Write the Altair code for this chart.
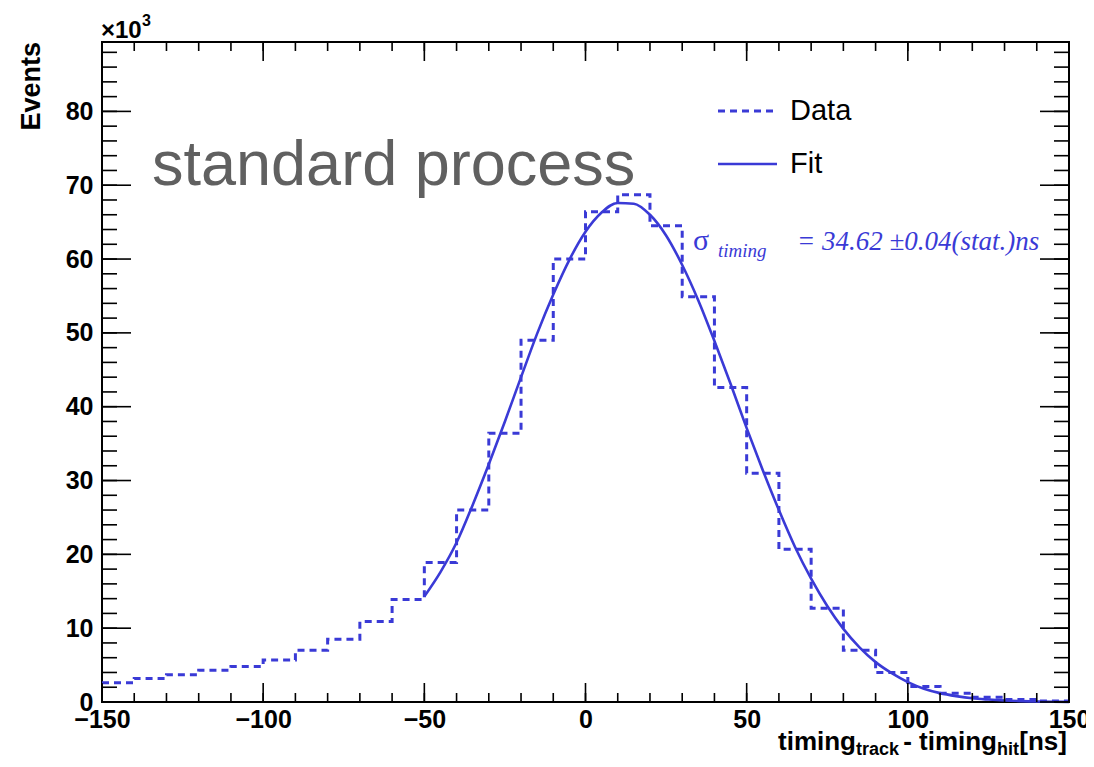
import altair as alt
import pandas as pd

# ---------------- data (values in units of 10^3 events) ----------------
bin_low = list(range(-150, 150, 10))
counts = [2.6, 3.2, 3.7, 4.3, 4.8, 5.7, 7.0, 8.5, 10.9, 13.9,
          18.9, 26.0, 36.4, 49.0, 60.0, 66.4, 68.7, 64.5, 54.9, 42.6,
          31.0, 20.7, 12.7, 7.0, 4.0, 2.1, 1.2, 0.65, 0.35, 0.15]

fit_x = list(range(-50, 155, 5))
fit_y = [14.3, 17.6, 21.6, 26.7, 32.2, 38.0, 44.0, 49.9, 55.2, 59.9,
         63.7, 66.3, 67.6, 67.5, 66.0, 63.2, 59.2, 54.4, 48.9, 43.1,
         37.1, 31.4, 26.0, 21.0, 16.7, 13.0, 9.9, 7.4, 5.4, 3.9,
         2.7, 1.8, 1.2, 0.8, 0.5, 0.33, 0.2, 0.12, 0.07, 0.04, 0.02]

x_tick_labels = [-150, -100, -50, 0, 50, 100, 150]
x_minor = list(range(-150, 151, 10))
y_tick_labels = [0, 10, 20, 30, 40, 50, 60, 70, 80]
y_minor = list(range(0, 90, 2))

X_MIN, X_MAX = -150, 150
Y_MAX = 89.4

BLUE = "#3a3ad6"
W, H = 967, 660
SANS = "Liberation Sans"
SERIF = "Liberation Serif"

# ---------------- tables ----------------
hist_df = pd.DataFrame({"x": bin_low + [X_MAX], "y": counts + [counts[-1]]})
fit_df = pd.DataFrame({"x": fit_x, "y": fit_y})
xmaj_df = pd.DataFrame({"x": x_tick_labels})
xmin_df = pd.DataFrame({"x": x_minor})
ymaj_df = pd.DataFrame({"y": y_tick_labels})
ymin_df = pd.DataFrame({"y": y_minor})

xscale = alt.Scale(domain=[X_MIN, X_MAX], nice=False, zero=False)
yscale = alt.Scale(domain=[0, Y_MAX], nice=False, zero=False)

xaxis = alt.Axis(values=x_tick_labels, ticks=False, domain=False, grid=False,
                 labelFont=SANS, labelFontWeight="bold", labelFontSize=25,
                 labelColor="black", labelPadding=5, labelFlush=False,
                 labelOverlap=False, title=None, format="d")
yaxis = alt.Axis(values=y_tick_labels, ticks=False, domain=False, grid=False,
                 labelFont=SANS, labelFontWeight="bold", labelFontSize=25,
                 labelColor="black", labelPadding=9, labelFlush=False,
                 labelOverlap=False, title=None, format="d")


def X(f="x"):
    return alt.X(f"{f}:Q", scale=xscale, axis=xaxis)


def Y(f="y"):
    return alt.Y(f"{f}:Q", scale=yscale, axis=yaxis)


hist = alt.Chart(hist_df).mark_line(
    interpolate="step-after", color=BLUE, strokeWidth=3, strokeDash=[7, 5]
).encode(x=X(), y=Y())

fit = alt.Chart(fit_df).mark_line(
    interpolate="monotone", color=BLUE, strokeWidth=2.6
).encode(x=X(), y=Y())

tick_layers = []
for df, ln in [(xmaj_df, 19), (xmin_df, 9)]:
    tick_layers.append(alt.Chart(df).mark_rule(color="black", strokeWidth=1.6).encode(
        x=X(), y=alt.value(H), y2=alt.value(H - ln)))
    tick_layers.append(alt.Chart(df).mark_rule(color="black", strokeWidth=1.6).encode(
        x=X(), y=alt.value(0), y2=alt.value(ln)))
for df, ln in [(ymaj_df, 29), (ymin_df, 15)]:
    tick_layers.append(alt.Chart(df).mark_rule(color="black", strokeWidth=1.6).encode(
        y=Y(), x=alt.value(0), x2=alt.value(ln)))
    tick_layers.append(alt.Chart(df).mark_rule(color="black", strokeWidth=1.6).encode(
        y=Y(), x=alt.value(W), x2=alt.value(W - ln)))

one = pd.DataFrame({"k": [0]})


def txt(text, x, y, size, font=SANS, weight="normal", style="normal",
        color="black", align="left", baseline="alphabetic", angle=0):
    kw = dict(text=text, font=font, fontSize=size, fontWeight=weight,
              fontStyle=style, color=color, align=align, baseline=baseline)
    if angle:
        kw["angle"] = angle
    return alt.Chart(one).mark_text(**kw).encode(x=alt.value(x), y=alt.value(y))


texts = [
    # multiplier and y title
    txt("×10", -1, -4, 24, weight="bold"),
    txt("3", 40, -16, 16, weight="bold"),
    txt("Events", -62, 0, 27, weight="bold", align="right", angle=270),
    # x title with subscripts (right aligned at the frame edge)
    txt("[ns]", W - 2, 708, 26, weight="bold", align="right"),
    txt("hit", W - 50, 713, 18, weight="bold", align="right"),
    txt("- timing", W - 72, 708, 26, weight="bold", align="right"),
    txt("track", W - 170, 713, 18, weight="bold", align="right"),
    txt("timing", W - 213, 708, 26, weight="bold", align="right"),
    # label
    txt("standard process", 50, 143, 63, color="#606060"),
    # legend
    txt("Data", 688, 69, 29, baseline="middle"),
    txt("Fit", 688, 122, 29, baseline="middle"),
    # sigma annotation
    txt("σ", 591, 208, 30, font=SERIF, color=BLUE),
    txt("timing", 616, 215, 19, font=SERIF, style="italic", color=BLUE),
    txt("= 34.62 ±0.04(stat.)ns", 695, 208, 27, font=SERIF, style="italic", color=BLUE),
]

legend_lines = [
    alt.Chart(one).mark_rule(color=BLUE, strokeWidth=3, strokeDash=[7, 5]).encode(
        x=alt.value(616), x2=alt.value(675), y=alt.value(69)),
    alt.Chart(one).mark_rule(color=BLUE, strokeWidth=2.6).encode(
        x=alt.value(616), x2=alt.value(675), y=alt.value(122)),
]

chart = alt.layer(hist, fit, *tick_layers, *legend_lines, *texts).properties(
    width=W, height=H,
    padding={"left": 94, "top": 34, "right": 17, "bottom": 57},
    autosize=alt.AutoSizeParams(type="none"),
    background="white",
).configure_view(stroke="black", strokeWidth=2)

chart.save("out.html", embed_options={"renderer": "svg", "actions": False})
